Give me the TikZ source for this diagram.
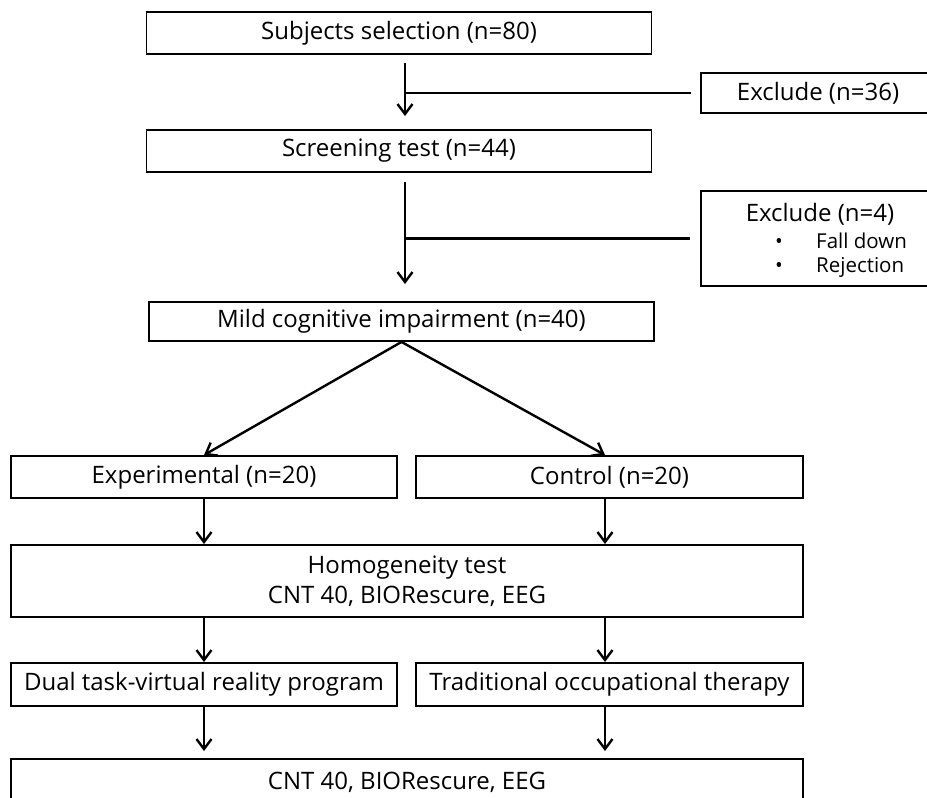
\documentclass[tikz,border=0pt]{standalone}
\usepackage{fontspec}
\setmainfont{Open Sans}
\usetikzlibrary{arrows.meta}
\begin{document}
\begin{tikzpicture}[x=1pt,y=-1pt,
  box/.style={draw,line width=1.9pt,inner sep=0pt,font=\fontsize{24}{30}\selectfont},
  txt/.style={inner sep=0pt,font=\fontsize{24}{30}\selectfont},
  small/.style={inner sep=0pt,font=\fontsize{20.5}{25}\selectfont},
  arr/.style={line width=2.4pt,-{Straight Barb[length=10pt,width=15pt,line width=2.4pt]}},
  ln/.style={line width=2.4pt}]
\useasboundingbox (0,0) rectangle (927,798);
\clip (0,0) rectangle (927,798);
\fill[white] (0,0) rectangle (927,798);
\coordinate (sp) at (405,0);
\coordinate (lx) at (204,0);
\coordinate (rx) at (605,0);
% boxes
\node[box,minimum width=505pt,minimum height=42pt] (sel) at (399,33) {Subjects selection (n=80)};
\node[box,minimum width=234pt,minimum height=40pt] (ex1) at (818,93) {Exclude (n=36)};
\node[box,minimum width=505pt,minimum height=42pt] (scr) at (399,151) {Screening test (n=44)};
\node[box,minimum width=234pt,minimum height=95pt] (ex2) at (818,238.5) {};
\node[txt] (ex2t) at (820,214) {Exclude (n=4)};
\node[small,anchor=base west] (fd) at (775,248) {\makebox[41pt][l]{\textbullet}Fall down};
\node[small,anchor=base west] (rej) at (775,272) {\makebox[41pt][l]{\textbullet}Rejection};
\node[box,minimum width=505pt,minimum height=39pt] (mci) at (401.5,321.5) {Mild cognitive impairment (n=40)};
\node[box,minimum width=386pt,minimum height=42pt] (exp) at (204,477) {Experimental (n=20)};
\node[box,minimum width=387pt,minimum height=42pt] (ctl) at (609.5,477) {Control (n=20)};
\node[box,minimum width=792pt,minimum height=72pt,align=center] (hom) at (407,581) {Homogeneity test\\CNT 40, BIORescure, EEG};
\node[box,minimum width=386pt,minimum height=43pt] (dual) at (204,684.5) {Dual task-virtual reality program};
\node[box,minimum width=387pt,minimum height=43pt] (trad) at (609.5,684.5) {Traditional occupational therapy};
\node[box,minimum width=792pt,minimum height=46pt] (fin) at (407,782) {CNT 40, BIORescure, EEG};
% connectors
\draw[arr,shorten <=8pt,shorten >=13pt] (sel.south -| sp) -- (scr.north -| sp);
\draw[ln,shorten >=9pt] (ex1.west -| sp) -- (ex1.west);
\draw[arr,shorten <=9pt,shorten >=17pt] (scr.south -| sp) -- (mci.north -| sp);
\draw[ln,shorten >=10pt] (ex2.west -| sp) -- (ex2.west);
\draw[arr] (mci.south) -- (exp.north);
\draw[arr] (mci.south) -- (ctl.north -| rx);
\draw[arr] (exp.south -| lx) -- (hom.north -| lx);
\draw[arr] (ctl.south -| rx) -- (hom.north -| rx);
\draw[arr] (hom.south -| lx) -- (dual.north -| lx);
\draw[arr] (hom.south -| rx) -- (trad.north -| rx);
\draw[arr,shorten >=7pt] (dual.south -| lx) -- (fin.north -| lx);
\draw[arr,shorten >=7pt] (trad.south -| rx) -- (fin.north -| rx);
\end{tikzpicture}
\end{document}
